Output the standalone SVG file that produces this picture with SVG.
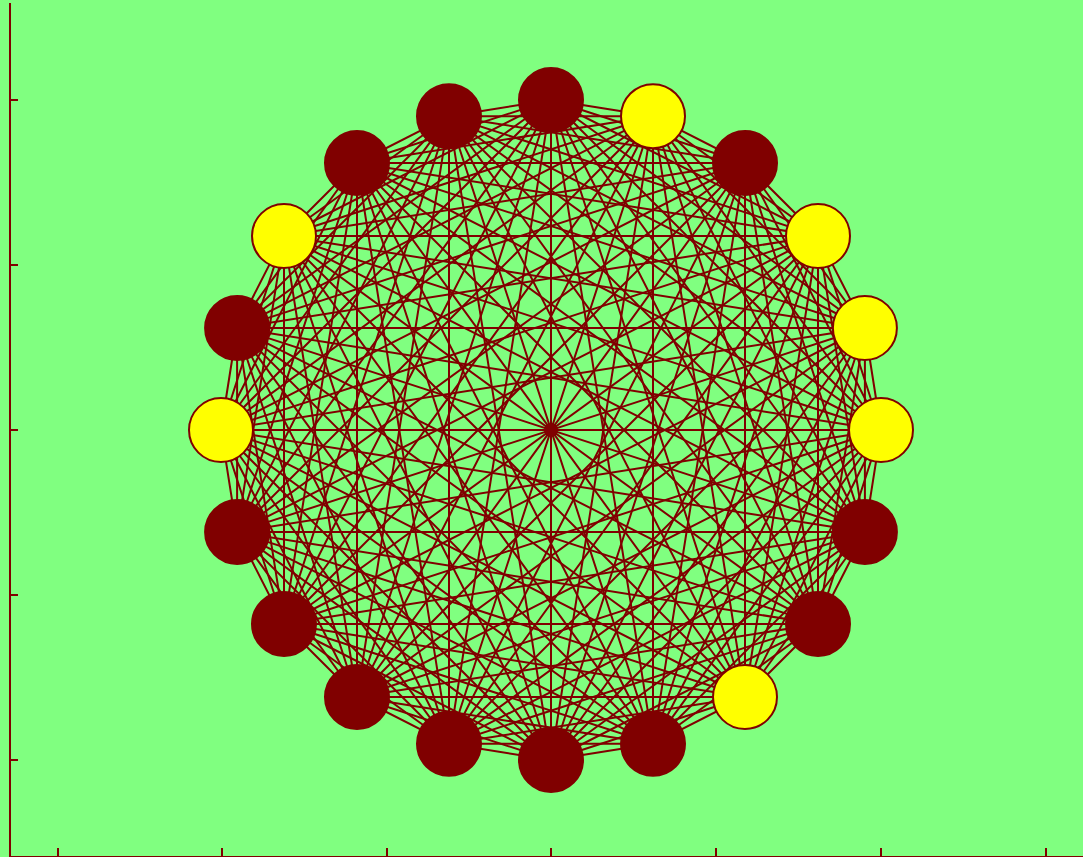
<svg xmlns="http://www.w3.org/2000/svg" width="1083" height="857" viewBox="0 0 1083 857">
<style>
.bg{fill:#80ff80}
.axis{stroke:#800000;stroke-width:2;fill:none}
.edge{stroke:#800000;stroke-width:2;fill:none}
.dark{fill:#800000;stroke:#800000;stroke-width:2}
.yel{fill:#ffff00;stroke:#800000;stroke-width:2}
</style>
<rect class="bg" x="0" y="0" width="1083" height="857"/>
<g id="axes">
<path class="axis" d="M10 3V857M10 100H18M10 265H18M10 430H18M10 595H18M10 760H18M58 848V857M222 848V857M387 848V857M551 848V857M716 848V857M881 848V857M1046 848V857"/>
<path d="M10 856.5H1083" stroke="#800000" stroke-width="1" fill="none"/>
</g>
<g id="connectors">
<path class="edge" d="M551 100 653 116.2M551 100 745 163M551 100 818 236M551 100 864.9 328M551 100 881 430M551 100 864.9 532M551 100 818 624M551 100 745 697M551 100 653 743.8M551 100 551 760M551 100 449 743.8M551 100 357 697M551 100 284 624M551 100 237.1 532M551 100 221 430M551 100 237.1 328M551 100 284 236M551 100 357 163M551 100 449 116.2"/>
<path class="edge" d="M653 116.2 745 163M653 116.2 818 236M653 116.2 864.9 328M653 116.2 881 430M653 116.2 864.9 532M653 116.2 818 624M653 116.2 745 697M653 116.2 653 743.8M653 116.2 551 760M653 116.2 449 743.8M653 116.2 357 697M653 116.2 284 624M653 116.2 237.1 532M653 116.2 221 430M653 116.2 237.1 328M653 116.2 284 236M653 116.2 357 163M653 116.2 449 116.2"/>
<path class="edge" d="M745 163 818 236M745 163 864.9 328M745 163 881 430M745 163 864.9 532M745 163 818 624M745 163 745 697M745 163 653 743.8M745 163 551 760M745 163 449 743.8M745 163 357 697M745 163 284 624M745 163 237.1 532M745 163 221 430M745 163 237.1 328M745 163 284 236M745 163 357 163M745 163 449 116.2"/>
<path class="edge" d="M818 236 864.9 328M818 236 881 430M818 236 864.9 532M818 236 818 624M818 236 745 697M818 236 653 743.8M818 236 551 760M818 236 449 743.8M818 236 357 697M818 236 284 624M818 236 237.1 532M818 236 221 430M818 236 237.1 328M818 236 284 236M818 236 357 163M818 236 449 116.2"/>
<path class="edge" d="M864.9 328 881 430M864.9 328 864.9 532M864.9 328 818 624M864.9 328 745 697M864.9 328 653 743.8M864.9 328 551 760M864.9 328 449 743.8M864.9 328 357 697M864.9 328 284 624M864.9 328 237.1 532M864.9 328 221 430M864.9 328 237.1 328M864.9 328 284 236M864.9 328 357 163M864.9 328 449 116.2"/>
<path class="edge" d="M881 430 864.9 532M881 430 818 624M881 430 745 697M881 430 653 743.8M881 430 551 760M881 430 449 743.8M881 430 357 697M881 430 284 624M881 430 237.1 532M881 430 221 430M881 430 237.1 328M881 430 284 236M881 430 357 163M881 430 449 116.2"/>
<path class="edge" d="M864.9 532 818 624M864.9 532 745 697M864.9 532 653 743.8M864.9 532 551 760M864.9 532 449 743.8M864.9 532 357 697M864.9 532 284 624M864.9 532 237.1 532M864.9 532 221 430M864.9 532 237.1 328M864.9 532 284 236M864.9 532 357 163M864.9 532 449 116.2"/>
<path class="edge" d="M818 624 745 697M818 624 653 743.8M818 624 551 760M818 624 449 743.8M818 624 357 697M818 624 284 624M818 624 237.1 532M818 624 221 430M818 624 237.1 328M818 624 284 236M818 624 357 163M818 624 449 116.2"/>
<path class="edge" d="M745 697 653 743.8M745 697 551 760M745 697 449 743.8M745 697 357 697M745 697 284 624M745 697 237.1 532M745 697 221 430M745 697 237.1 328M745 697 284 236M745 697 357 163M745 697 449 116.2"/>
<path class="edge" d="M653 743.8 551 760M653 743.8 449 743.8M653 743.8 357 697M653 743.8 284 624M653 743.8 237.1 532M653 743.8 221 430M653 743.8 237.1 328M653 743.8 284 236M653 743.8 357 163M653 743.8 449 116.2"/>
<path class="edge" d="M551 760 449 743.8M551 760 357 697M551 760 284 624M551 760 237.1 532M551 760 221 430M551 760 237.1 328M551 760 284 236M551 760 357 163M551 760 449 116.2"/>
<path class="edge" d="M449 743.8 357 697M449 743.8 284 624M449 743.8 237.1 532M449 743.8 221 430M449 743.8 237.1 328M449 743.8 284 236M449 743.8 357 163M449 743.8 449 116.2"/>
<path class="edge" d="M357 697 284 624M357 697 237.1 532M357 697 221 430M357 697 237.1 328M357 697 284 236M357 697 357 163M357 697 449 116.2"/>
<path class="edge" d="M284 624 237.1 532M284 624 221 430M284 624 237.1 328M284 624 284 236M284 624 357 163M284 624 449 116.2"/>
<path class="edge" d="M237.1 532 221 430M237.1 532 237.1 328M237.1 532 284 236M237.1 532 357 163M237.1 532 449 116.2"/>
<path class="edge" d="M221 430 237.1 328M221 430 284 236M221 430 357 163M221 430 449 116.2"/>
<path class="edge" d="M237.1 328 284 236M237.1 328 357 163M237.1 328 449 116.2"/>
<path class="edge" d="M284 236 357 163M284 236 449 116.2"/>
<path class="edge" d="M357 163 449 116.2"/>
<circle cx="551" cy="430" r="7" fill="#800000"/>
</g>
<g id="n0"><circle class="dark" cx="551" cy="100" r="32"/></g>
<g id="n1"><circle class="yel" cx="653" cy="116.2" r="32"/></g>
<g id="n2"><circle class="dark" cx="745" cy="163" r="32"/></g>
<g id="n3"><circle class="yel" cx="818" cy="236" r="32"/></g>
<g id="n4"><circle class="yel" cx="864.9" cy="328" r="32"/></g>
<g id="n5"><circle class="yel" cx="881" cy="430" r="32"/></g>
<g id="n6"><circle class="dark" cx="864.9" cy="532" r="32"/></g>
<g id="n7"><circle class="dark" cx="818" cy="624" r="32"/></g>
<g id="n8"><circle class="yel" cx="745" cy="697" r="32"/></g>
<g id="n9"><circle class="dark" cx="653" cy="743.8" r="32"/></g>
<g id="n10"><circle class="dark" cx="551" cy="760" r="32"/></g>
<g id="n11"><circle class="dark" cx="449" cy="743.8" r="32"/></g>
<g id="n12"><circle class="dark" cx="357" cy="697" r="32"/></g>
<g id="n13"><circle class="dark" cx="284" cy="624" r="32"/></g>
<g id="n14"><circle class="dark" cx="237.1" cy="532" r="32"/></g>
<g id="n15"><circle class="yel" cx="221" cy="430" r="32"/></g>
<g id="n16"><circle class="dark" cx="237.1" cy="328" r="32"/></g>
<g id="n17"><circle class="yel" cx="284" cy="236" r="32"/></g>
<g id="n18"><circle class="dark" cx="357" cy="163" r="32"/></g>
<g id="n19"><circle class="dark" cx="449" cy="116.2" r="32"/></g>
</svg>
